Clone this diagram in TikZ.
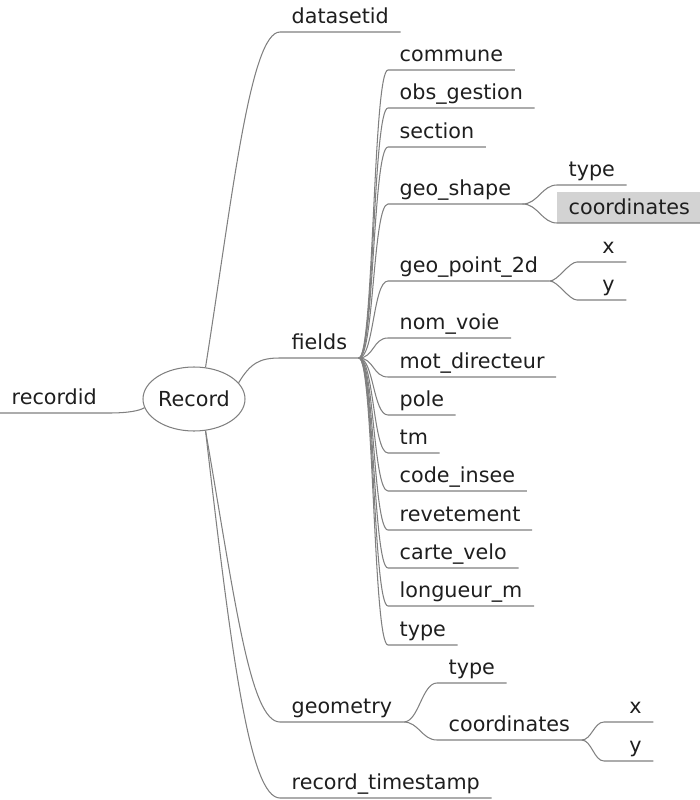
\documentclass[tikz,border=0pt]{standalone}
\usepackage{fontspec}
\setmainfont{DejaVu Sans}
\usetikzlibrary{shapes.geometric}

\definecolor{linegray}{RGB}{128,128,128}
\definecolor{markgray}{RGB}{211,211,211}
\definecolor{inkgray}{RGB}{30,30,30}
\newcommand{\topicfont}{\fontsize{20.7}{24}\selectfont}

\tikzset{
  branch/.style={draw=linegray, line width=1.05pt},
  topic/.style={anchor=south west, font=\topicfont, text=inkgray,
    inner xsep=11.5pt, inner ysep=8pt, text height=15pt, text depth=0pt},
  leaf/.style={topic, text width=26pt, align=right},
  marked/.style={fill=markgray},
  root/.style={ellipse, draw=linegray, line width=1.05pt, font=\topicfont,
    text=inkgray, minimum width=102pt, minimum height=64pt, inner sep=0pt}
}

\begin{document}
\begin{tikzpicture}[x=1pt, y=-1pt]
  \useasboundingbox (0,0) rectangle (700,800);

  % root and first level
  \node[root] (Record) at (194,399) {Record};
  \node[topic] (recordid) at (0,413) {recordid};
  \node[topic] (datasetid) at (280,32) {datasetid};
  \node[topic] (fields) at (280,358) {fields};
  \node[topic] (geometry) at (280,722) {geometry};
  \node[topic] (timestamp) at (280,798) {record\_timestamp};

  % fields
  \node[topic] (commune) at (388,70) {commune};
  \node[topic] (obsgestion) at (388,108) {obs\_gestion};
  \node[topic] (section) at (388,147) {section};
  \node[topic] (geoshape) at (388,204) {geo\_shape};
  \node[topic] (geopoint) at (388,281) {geo\_point\_2d};
  \node[topic] (nomvoie) at (388,338) {nom\_voie};
  \node[topic] (motdirecteur) at (388,377) {mot\_directeur};
  \node[topic] (pole) at (388,415) {pole};
  \node[topic] (tm) at (388,453) {tm};
  \node[topic] (codeinsee) at (388,491) {code\_insee};
  \node[topic] (revetement) at (388,530) {revetement};
  \node[topic] (cartevelo) at (388,568) {carte\_velo};
  \node[topic] (longueur) at (388,606) {longueur\_m};
  \node[topic] (fieldtype) at (388,645) {type};

  \node[topic] (shapetype) at (557,185) {type};
  \node[topic, marked] (shapecoords) at (557,223) {coordinates};
  \node[leaf] (pointx) at (577,262) {x};
  \node[leaf] (pointy) at (577,300) {y};

  % geometry
  \node[topic] (geomtype) at (437,683) {type};
  \node[topic] (geomcoords) at (437,740) {coordinates};
  \node[leaf] (geomx) at (604,722) {x};
  \node[leaf] (geomy) at (604,761) {y};

  % branches from the root
  \draw[branch] (recordid.south west) -- (recordid.south east)
    .. controls +(20,0) and +(-5,3) .. (Record.190);
  \draw[branch] (Record.70) .. controls (232,200) and (250,32) .. (datasetid.south west)
    -- (datasetid.south east);
  \draw[branch] (Record.20) .. controls +(12,-20) and +(-20,0) .. (fields.south west)
    -- (fields.south east);
  \draw[branch] (Record.290) .. controls (235,600) and (250,722) .. (geometry.south west)
    -- (geometry.south east);
  \draw[branch] (Record.290) .. controls (232,660) and (250,798) .. (timestamp.south west)
    -- (timestamp.south east);

  % branches of fields
  \draw[branch] (fields.south east) .. controls +(15,0) and +(-15,0) .. (commune.south west) -- (commune.south east);
  \draw[branch] (fields.south east) .. controls +(15,0) and +(-15,0) .. (obsgestion.south west) -- (obsgestion.south east);
  \draw[branch] (fields.south east) .. controls +(15,0) and +(-15,0) .. (section.south west) -- (section.south east);
  \draw[branch] (fields.south east) .. controls +(15,0) and +(-15,0) .. (geoshape.south west) -- (geoshape.south east);
  \draw[branch] (fields.south east) .. controls +(15,0) and +(-15,0) .. (geopoint.south west) -- (geopoint.south east);
  \draw[branch] (fields.south east) .. controls +(15,0) and +(-15,0) .. (nomvoie.south west) -- (nomvoie.south east);
  \draw[branch] (fields.south east) .. controls +(15,0) and +(-15,0) .. (motdirecteur.south west) -- (motdirecteur.south east);
  \draw[branch] (fields.south east) .. controls +(15,0) and +(-15,0) .. (pole.south west) -- (pole.south east);
  \draw[branch] (fields.south east) .. controls +(15,0) and +(-15,0) .. (tm.south west) -- (tm.south east);
  \draw[branch] (fields.south east) .. controls +(15,0) and +(-15,0) .. (codeinsee.south west) -- (codeinsee.south east);
  \draw[branch] (fields.south east) .. controls +(15,0) and +(-15,0) .. (revetement.south west) -- (revetement.south east);
  \draw[branch] (fields.south east) .. controls +(15,0) and +(-15,0) .. (cartevelo.south west) -- (cartevelo.south east);
  \draw[branch] (fields.south east) .. controls +(15,0) and +(-15,0) .. (longueur.south west) -- (longueur.south east);
  \draw[branch] (fields.south east) .. controls +(15,0) and +(-15,0) .. (fieldtype.south west) -- (fieldtype.south east);

  \draw[branch] (geoshape.south east) .. controls +(15,0) and +(-15,0) .. (shapetype.south west) -- (shapetype.south east);
  \draw[branch] (geoshape.south east) .. controls +(15,0) and +(-15,0) .. (shapecoords.south west) -- (shapecoords.south east);
  \draw[branch] (geopoint.south east) .. controls +(8,0) and +(-8,0) .. (pointx.south west) -- (pointx.south east);
  \draw[branch] (geopoint.south east) .. controls +(8,0) and +(-8,0) .. (pointy.south west) -- (pointy.south east);

  % branches of geometry
  \draw[branch] (geometry.south east) .. controls +(15,0) and +(-15,0) .. (geomtype.south west) -- (geomtype.south east);
  \draw[branch] (geometry.south east) .. controls +(15,0) and +(-15,0) .. (geomcoords.south west) -- (geomcoords.south east);
  \draw[branch] (geomcoords.south east) .. controls +(10,0) and +(-10,0) .. (geomx.south west) -- (geomx.south east);
  \draw[branch] (geomcoords.south east) .. controls +(10,0) and +(-10,0) .. (geomy.south west) -- (geomy.south east);
\end{tikzpicture}
\end{document}
